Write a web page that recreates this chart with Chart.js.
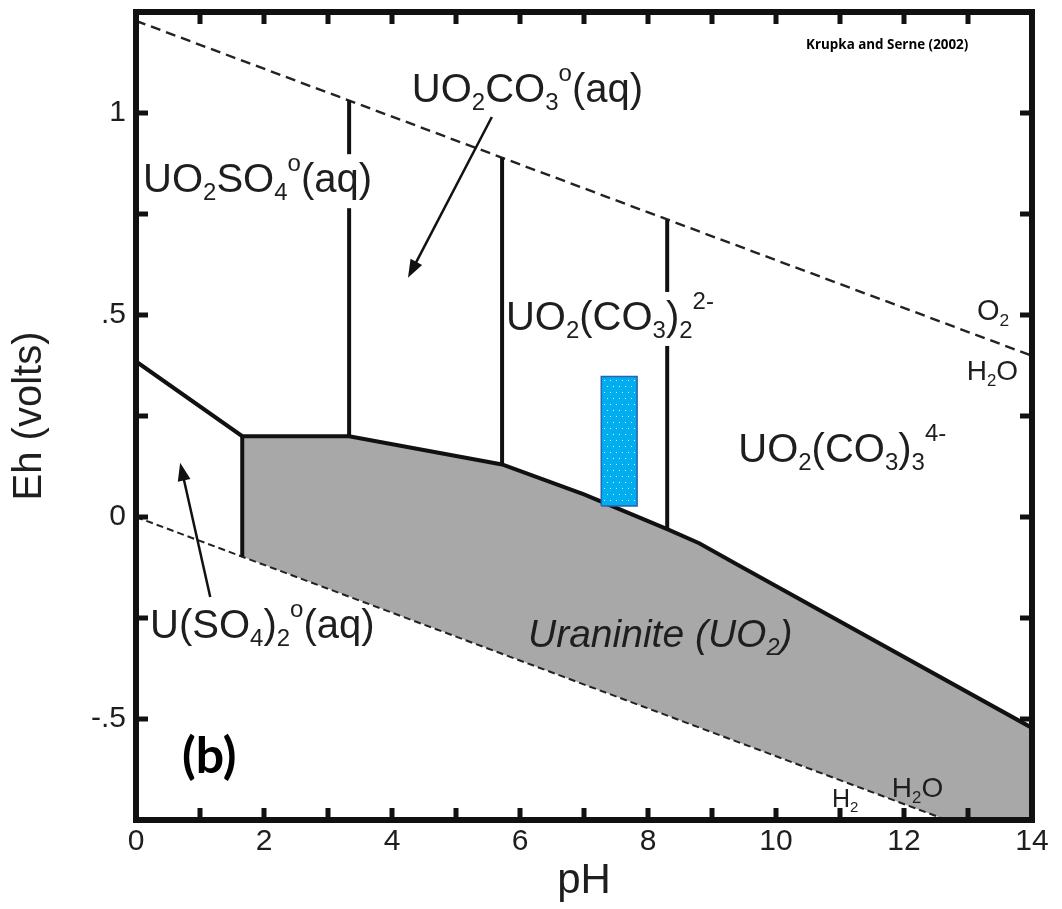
<!DOCTYPE html>
<html>
<head>
<meta charset="utf-8">
<script src="https://cdn.jsdelivr.net/npm/chart.js@4.4.1/dist/chart.umd.min.js"></script>
<style>
html, body { margin: 0; padding: 0; background: #fff; }
canvas { display: block; }
</style>
</head>
<body>
<canvas id="eh" width="1062" height="909"></canvas>
<script>
// water stability limits (dashed lines)
var o2PH = [0, 14];
var o2Eh = [1.228, 0.399];
var h2PH = [0, 14];
var h2Eh = [0, -0.829];

// main field boundary, left to right
var edgePH = [0, 1.66, 3.33, 5.72, 7.0, 8.3, 8.8, 9.4, 14];
var edgeEh = [0.385, 0.2, 0.2, 0.13, 0.056, -0.03, -0.065, -0.118, -0.522];

// vertical boundaries between the aqueous species
var vertPH = [1.66, 3.33, 5.72, 8.3];
var vertLow = [-0.098, 0.2, 0.13, -0.03];
var vertHigh = [0.2, 1.031, 0.889, 0.735];

// blue box (measured range)
var boxPH = [7.27, 7.83];
var boxEh = [0.027, 0.348];

// tick labels
var xTickVals = [0, 2, 4, 6, 8, 10, 12, 14];
var yTickVals = [1, 0.5, 0, -0.5];
var yTickText = ['1', '.5', '0', '-.5'];

var FONT = "'Liberation Sans', Arial, sans-serif";
var INK = '#1e1e1e';

// text on the diagram; parts: n = normal, b = subscript, p = superscript
var notes = [
  { parts: [['UO','n'],['2','b'],['SO','n'],['4','b'],['o','p'],['(aq)','n']], ph: 0.11, eh: 0.804, size: 40, bg: true },
  { parts: [['UO','n'],['2','b'],['CO','n'],['3','b'],['o','p'],['(aq)','n']], ph: 4.31, eh: 1.027, size: 40 },
  { parts: [['UO','n'],['2','b'],['(CO','n'],['3','b'],[')','n'],['2','b'],['2-','p']], ph: 5.78, eh: 0.463, size: 40, bg: true },
  { parts: [['UO','n'],['2','b'],['(CO','n'],['3','b'],[')','n'],['3','b'],['4-','p']], ph: 9.41, eh: 0.136, size: 40 },
  { parts: [['U(SO','n'],['4','b'],[')','n'],['2','b'],['o','p'],['(aq)','n']], ph: 0.22, eh: -0.30, size: 40 },
  { parts: [['Uraninite (UO','n'],['2','b'],[')','n']], ph: 6.125, eh: -0.322, size: 39, style: 'italic' },
  { parts: [['O','n'],['2','b']], ph: 13.14, eh: 0.488, size: 29 },
  { parts: [['H','n'],['2','b'],['O','n']], ph: 12.98, eh: 0.339, size: 28 },
  { parts: [['H','n'],['2','b']], ph: 10.875, eh: -0.718, size: 25 },
  { parts: [['H','n'],['2','b'],['O','n']], ph: 11.81, eh: -0.693, size: 28 },
  { parts: [['(b)','n']], ph: 0.72, eh: -0.634, size: 50, style: 'bold', family: "Lato, 'Open Sans', sans-serif", color: '#000' },
  { parts: [['Krupka and Serne (2002)','n']], ph: 10.47, eh: 1.158, size: 13.4, style: 'bold', family: "'Open Sans', Lato, sans-serif", color: '#000' }
];

var arrows = [
  { from: [5.56, 0.990], to: [4.25, 0.592] },
  { from: [1.16, -0.198], to: [0.69, 0.134] }
];

function pts(xs, ys) {
  var out = [];
  for (var i = 0; i < xs.length; i++) out.push({ x: xs[i], y: ys[i] });
  return out;
}

// uraninite field: boundary from pH 1.66 on, then back along the H2 line
var uranPH = edgePH.slice(1).concat([h2PH[1], vertPH[0]]);
var uranEh = edgeEh.slice(1).concat([h2Eh[1], vertLow[0]]);

var boxX = [boxPH[0], boxPH[1], boxPH[1], boxPH[0], boxPH[0]];
var boxY = [boxEh[0], boxEh[0], boxEh[1], boxEh[1], boxEh[0]];

// dotted blue fill
var tile = document.createElement('canvas');
tile.width = 6; tile.height = 12;
var tc = tile.getContext('2d');
tc.fillStyle = '#00aeef';
tc.fillRect(0, 0, 6, 12);
tc.fillStyle = 'rgba(255,255,255,0.9)';
tc.fillRect(1, 2, 1, 1);
tc.fillRect(4, 8, 1, 1);
var dots = tc.createPattern(tile, 'repeat');

var datasets = [];
datasets.push({ data: pts(boxX, boxY), showLine: true, fill: 'shape', backgroundColor: dots,
  borderColor: '#2d62b0', borderWidth: 1.5, pointRadius: 0, order: 0, clip: 0 });
datasets.push({ data: pts(edgePH, edgeEh), showLine: true, borderColor: '#111', borderWidth: 4,
  pointRadius: 0, order: 1, clip: 0 });
for (var i = 0; i < vertPH.length; i++) {
  datasets.push({ data: [{ x: vertPH[i], y: vertLow[i] }, { x: vertPH[i], y: vertHigh[i] }], showLine: true,
    borderColor: '#111', borderWidth: 4, pointRadius: 0, order: 1, clip: 0 });
}
datasets.push({ data: pts(o2PH, o2Eh), showLine: true, borderColor: '#222', borderWidth: 2.4,
  borderDash: [10, 6], pointRadius: 0, order: 2, clip: 0 });
datasets.push({ data: pts(h2PH, h2Eh), showLine: true, borderColor: '#222', borderWidth: 2,
  borderDash: [7, 4], pointRadius: 0, order: 2, clip: 0 });
datasets.push({ data: pts(uranPH, uranEh), showLine: true, fill: 'shape', backgroundColor: '#a8a8a8',
  borderWidth: 0, pointRadius: 0, order: 9, clip: 0 });

function drawNote(ctx, n, x, y) {
  var fam = n.family || FONT;
  var st = n.style ? n.style + ' ' : '';
  var w = 0, segs = [];
  n.parts.forEach(function(p) {
    var sz = p[1] == 'n' ? n.size : n.size * 0.6;
    var f = st + sz + 'px ' + fam;
    ctx.font = f;
    var dy = p[1] == 'b' ? n.size * 0.2 : (p[1] == 'p' ? -n.size * 0.52 : 0);
    segs.push({ t: p[0], f: f, x: w, dy: dy });
    w += ctx.measureText(p[0]).width;
  });
  if (n.bg) {
    ctx.fillStyle = '#fff';
    ctx.fillRect(x + 2, y - n.size * 0.95, w + 2, n.size * 1.35);
  }
  ctx.fillStyle = n.color || INK;
  ctx.textBaseline = 'alphabetic';
  ctx.textAlign = 'left';
  segs.forEach(function(s) {
    ctx.font = s.f;
    ctx.fillText(s.t, x + s.x, y + s.dy);
  });
}

var overlay = {
  id: 'overlay',
  afterDatasetsDraw: function(chart) {
    var ctx = chart.ctx, xs = chart.scales.x, ys = chart.scales.y;
    ctx.save();
    // arrows
    arrows.forEach(function(a) {
      var x0 = xs.getPixelForValue(a.from[0]), y0 = ys.getPixelForValue(a.from[1]);
      var x1 = xs.getPixelForValue(a.to[0]), y1 = ys.getPixelForValue(a.to[1]);
      var ang = Math.atan2(y1 - y0, x1 - x0);
      var hl = 18, hw = 6.5;
      ctx.strokeStyle = '#111';
      ctx.lineWidth = 2.5;
      ctx.beginPath();
      ctx.moveTo(x0, y0);
      ctx.lineTo(x1 - Math.cos(ang) * hl * 0.8, y1 - Math.sin(ang) * hl * 0.8);
      ctx.stroke();
      ctx.fillStyle = '#111';
      ctx.beginPath();
      ctx.moveTo(x1, y1);
      ctx.lineTo(x1 - Math.cos(ang) * hl - Math.sin(ang) * hw, y1 - Math.sin(ang) * hl + Math.cos(ang) * hw);
      ctx.lineTo(x1 - Math.cos(ang) * hl + Math.sin(ang) * hw, y1 - Math.sin(ang) * hl - Math.cos(ang) * hw);
      ctx.closePath();
      ctx.fill();
    });
    notes.forEach(function(n) {
      drawNote(ctx, n, xs.getPixelForValue(n.ph), ys.getPixelForValue(n.eh));
    });
    ctx.restore();
  },
  afterDraw: function(chart) {
    var ctx = chart.ctx, a = chart.chartArea, xs = chart.scales.x, ys = chart.scales.y;
    ctx.save();
    ctx.strokeStyle = '#111';
    // inward ticks on all four sides
    ctx.lineWidth = 5;
    ctx.beginPath();
    xs.ticks.forEach(function(t) {
      if (t.value <= xs.min || t.value >= xs.max) return;
      var x = xs.getPixelForValue(t.value);
      ctx.moveTo(x, a.bottom); ctx.lineTo(x, a.bottom - 12);
      ctx.moveTo(x, a.top); ctx.lineTo(x, a.top + 12);
    });
    ys.ticks.forEach(function(t) {
      if (t.value <= ys.min || t.value >= ys.max) return;
      var y = ys.getPixelForValue(t.value);
      ctx.moveTo(a.left, y); ctx.lineTo(a.left + 12, y);
      ctx.moveTo(a.right, y); ctx.lineTo(a.right - 12, y);
    });
    ctx.stroke();
    // frame
    ctx.lineWidth = 6;
    ctx.strokeRect(a.left, a.top, a.right - a.left, a.bottom - a.top);
    ctx.restore();
  }
};

var chart = new Chart(document.getElementById('eh'), {
  type: 'scatter',
  data: { datasets: datasets },
  options: {
    responsive: false,
    animation: false,
    devicePixelRatio: 1,
    layout: { padding: { top: 12, right: 30, left: 0, bottom: 0 } },
    plugins: { legend: { display: false }, tooltip: { enabled: false } },
    scales: {
      x: {
        type: 'linear', min: 0, max: 14,
        grid: { display: false, drawTicks: false },
        border: { display: false },
        ticks: {
          stepSize: 1, autoSkip: false, maxRotation: 0, padding: 4,
          color: INK, font: { family: FONT, size: 30 },
          callback: function(v) { return xTickVals.indexOf(v) >= 0 ? String(v) : ''; }
        },
        title: { display: true, text: 'pH', color: INK, font: { family: FONT, size: 42 }, padding: { top: 0, bottom: 2 } },
        afterFit: function(s) { s.height = 89; s.paddingLeft = 0; s.paddingRight = 0; }
      },
      y: {
        type: 'linear', min: -0.75, max: 1.25,
        grid: { display: false, drawTicks: false },
        border: { display: false },
        ticks: {
          stepSize: 0.25, autoSkip: false, padding: 10,
          color: INK, font: { family: FONT, size: 30 },
          callback: function(v) {
            for (var i = 0; i < yTickVals.length; i++) {
              if (Math.abs(v - yTickVals[i]) < 1e-9) return yTickText[i];
            }
            return '';
          }
        },
        title: { display: true, text: 'Eh (volts)', color: INK, font: { family: FONT, size: 40 }, padding: { top: 6, bottom: 0 } },
        afterFit: function(s) { s.width = 136; s.paddingTop = 0; s.paddingBottom = 0; }
      }
    }
  },
  plugins: [overlay]
});
</script>
</body>
</html>
